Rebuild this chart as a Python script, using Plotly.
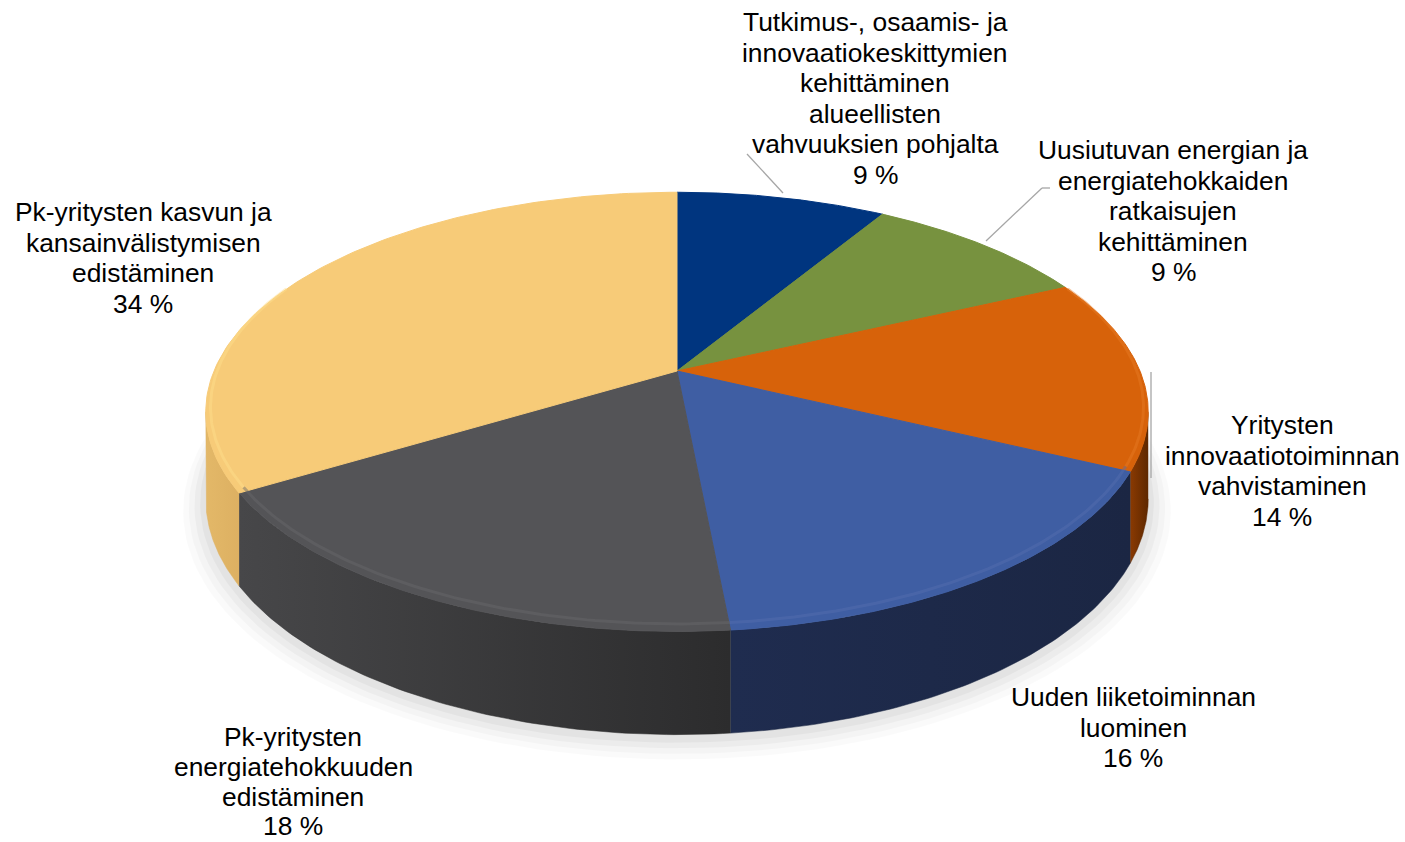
import numpy as np
import plotly.graph_objects as go

labels = [
    "Tutkimus-, osaamis- ja<br>innovaatiokeskittymien<br>kehittäminen<br>alueellisten<br>vahvuuksien pohjalta",
    "Uusiutuvan energian ja<br>energiatehokkaiden<br>ratkaisujen<br>kehittäminen",
    "Yritysten<br>innovaatiotoiminnan<br>vahvistaminen",
    "Uuden liiketoiminnan<br>luominen",
    "Pk-yritysten<br>energiatehokkuuden<br>edistäminen",
    "Pk-yritysten kasvun ja<br>kansainvälistymisen<br>edistäminen",
]
values = [8.6, 9.4, 14.2, 16.3, 17.8, 33.7]

top_colors = ["#00357F", "#77923F", "#D7620A", "#3F5EA3", "#545457", "#F7CB78"]
rim_colors = ["#1A4A90", "#88A350", "#E77B25", "#566FB0", "#68686B", "#FFDF8C"]
wall_colors = [("#001D48", "#001D48"), ("#43531F", "#43531F"), ("#8A3A02", "#5E2800"),
               ("#1F2C4F", "#1B2643"), ("#474749", "#2C2C2D"), ("#E3B868", "#DDB062")]

# label anchor (centre x, first line y, line step) and leader lines, in pixels
label_pos = [(875, 22, 30.6), (1173, 150, 30.6), (1282, 425, 30.6),
             (1133, 697, 30.6), (293, 737, 29.8), (143, 212, 30.6)]
leaders = [[(747, 154), (783, 193)],
           [(986, 241), (1042, 188), (1050, 188)],
           [(1151, 372), (1151, 478)],
           None, None, None]

# pie geometry (pixels)
CX, CY = 677, 371
A, B, K = 463, 212, 0.186
DEPTH = 84


def project(theta, drop=0.0, scale=1.0):
    u, v = np.sin(theta), np.cos(theta)
    d = 1 + K * v
    return CX + scale * A * u / d, CY + (-scale * B * v + drop) / d


def main():
    fig = go.Figure()

    # soft shadow under the pie
    th = np.linspace(0, 2 * np.pi, 200)
    for i, a in enumerate([0.02, 0.025, 0.03, 0.035]):
        sx, sy = project(th, DEPTH + 10 - i * 2, 1.0 + 0.012 * (4 - i))
        fig.add_trace(go.Scatter(x=sx, y=sy, fill="toself", mode="lines", line=dict(width=0),
                                 fillcolor="rgba(0,0,0,%.3f)" % a, hoverinfo="skip"))

    total = sum(values)
    bounds = np.concatenate([[0], np.cumsum(values)]) / total * 2 * np.pi
    th_r = np.arccos(-K)
    th_l = 2 * np.pi - th_r

    # outer walls on the visible front half
    for i in range(len(values)):
        a0, a1 = max(bounds[i], th_r), min(bounds[i + 1], th_l)
        if a1 <= a0:
            continue
        t = np.linspace(a0, a1, 80)
        tx, ty = project(t)
        bx, by = project(t, DEPTH)
        c1, c2 = wall_colors[i]
        fig.add_trace(go.Scatter(
            x=np.concatenate([tx, bx[::-1]]), y=np.concatenate([ty, by[::-1]]),
            fill="toself", mode="lines", line=dict(width=0.5, color=c2),
            fillgradient=dict(type="horizontal", colorscale=[[0, c1], [1, c2]]),
            hoverinfo="skip"))

    # top faces
    for i in range(len(values)):
        t = np.linspace(bounds[i], bounds[i + 1], 120)
        tx, ty = project(t)
        fig.add_trace(go.Scatter(
            x=np.concatenate([[CX], tx, [CX]]), y=np.concatenate([[CY], ty, [CY]]),
            fill="toself", mode="lines", line=dict(width=1, color=top_colors[i]),
            fillcolor=top_colors[i], hoverinfo="skip"))

    # light bevel along the front rim
    for i in range(len(values)):
        a0, a1 = max(bounds[i], th_r - 0.6), min(bounds[i + 1], th_l + 0.6)
        if a1 <= a0:
            continue
        t = np.linspace(a0, a1, 80)
        rx, ry = project(t, -4, 0.99)
        fig.add_trace(go.Scatter(x=rx, y=ry, mode="lines", hoverinfo="skip",
                                 line=dict(width=3, color=rim_colors[i]), opacity=0.45))

    # labels, one annotation per line for Excel-like spacing
    for i, lab in enumerate(labels):
        lines = lab.split("<br>") + ["%d %%" % round(values[i] / total * 100)]
        x0, y0, step = label_pos[i]
        for j, line in enumerate(lines):
            fig.add_annotation(x=x0, y=y0 + j * step, text=line, showarrow=False,
                               xanchor="center", yanchor="middle", borderpad=0,
                               font=dict(family="Liberation Sans, Arial", size=26.4, color="#000000"))
        if leaders[i]:
            pts = leaders[i]
            for p, q in zip(pts[:-1], pts[1:]):
                fig.add_shape(type="line", x0=p[0], y0=p[1], x1=q[0], y1=q[1],
                              line=dict(color="#A6A6A6", width=1.3))

    fig.update_layout(
        width=1405, height=842, margin=dict(l=0, r=0, t=0, b=0),
        plot_bgcolor="white", paper_bgcolor="white", showlegend=False,
        xaxis=dict(range=[0, 1405], visible=False, fixedrange=True),
        yaxis=dict(range=[842, 0], visible=False, fixedrange=True),
    )
    fig.write_html("out.html", config={"displayModeBar": False},
                   post_script="document.body.style.margin='0';")


if __name__ == "__main__":
    main()
